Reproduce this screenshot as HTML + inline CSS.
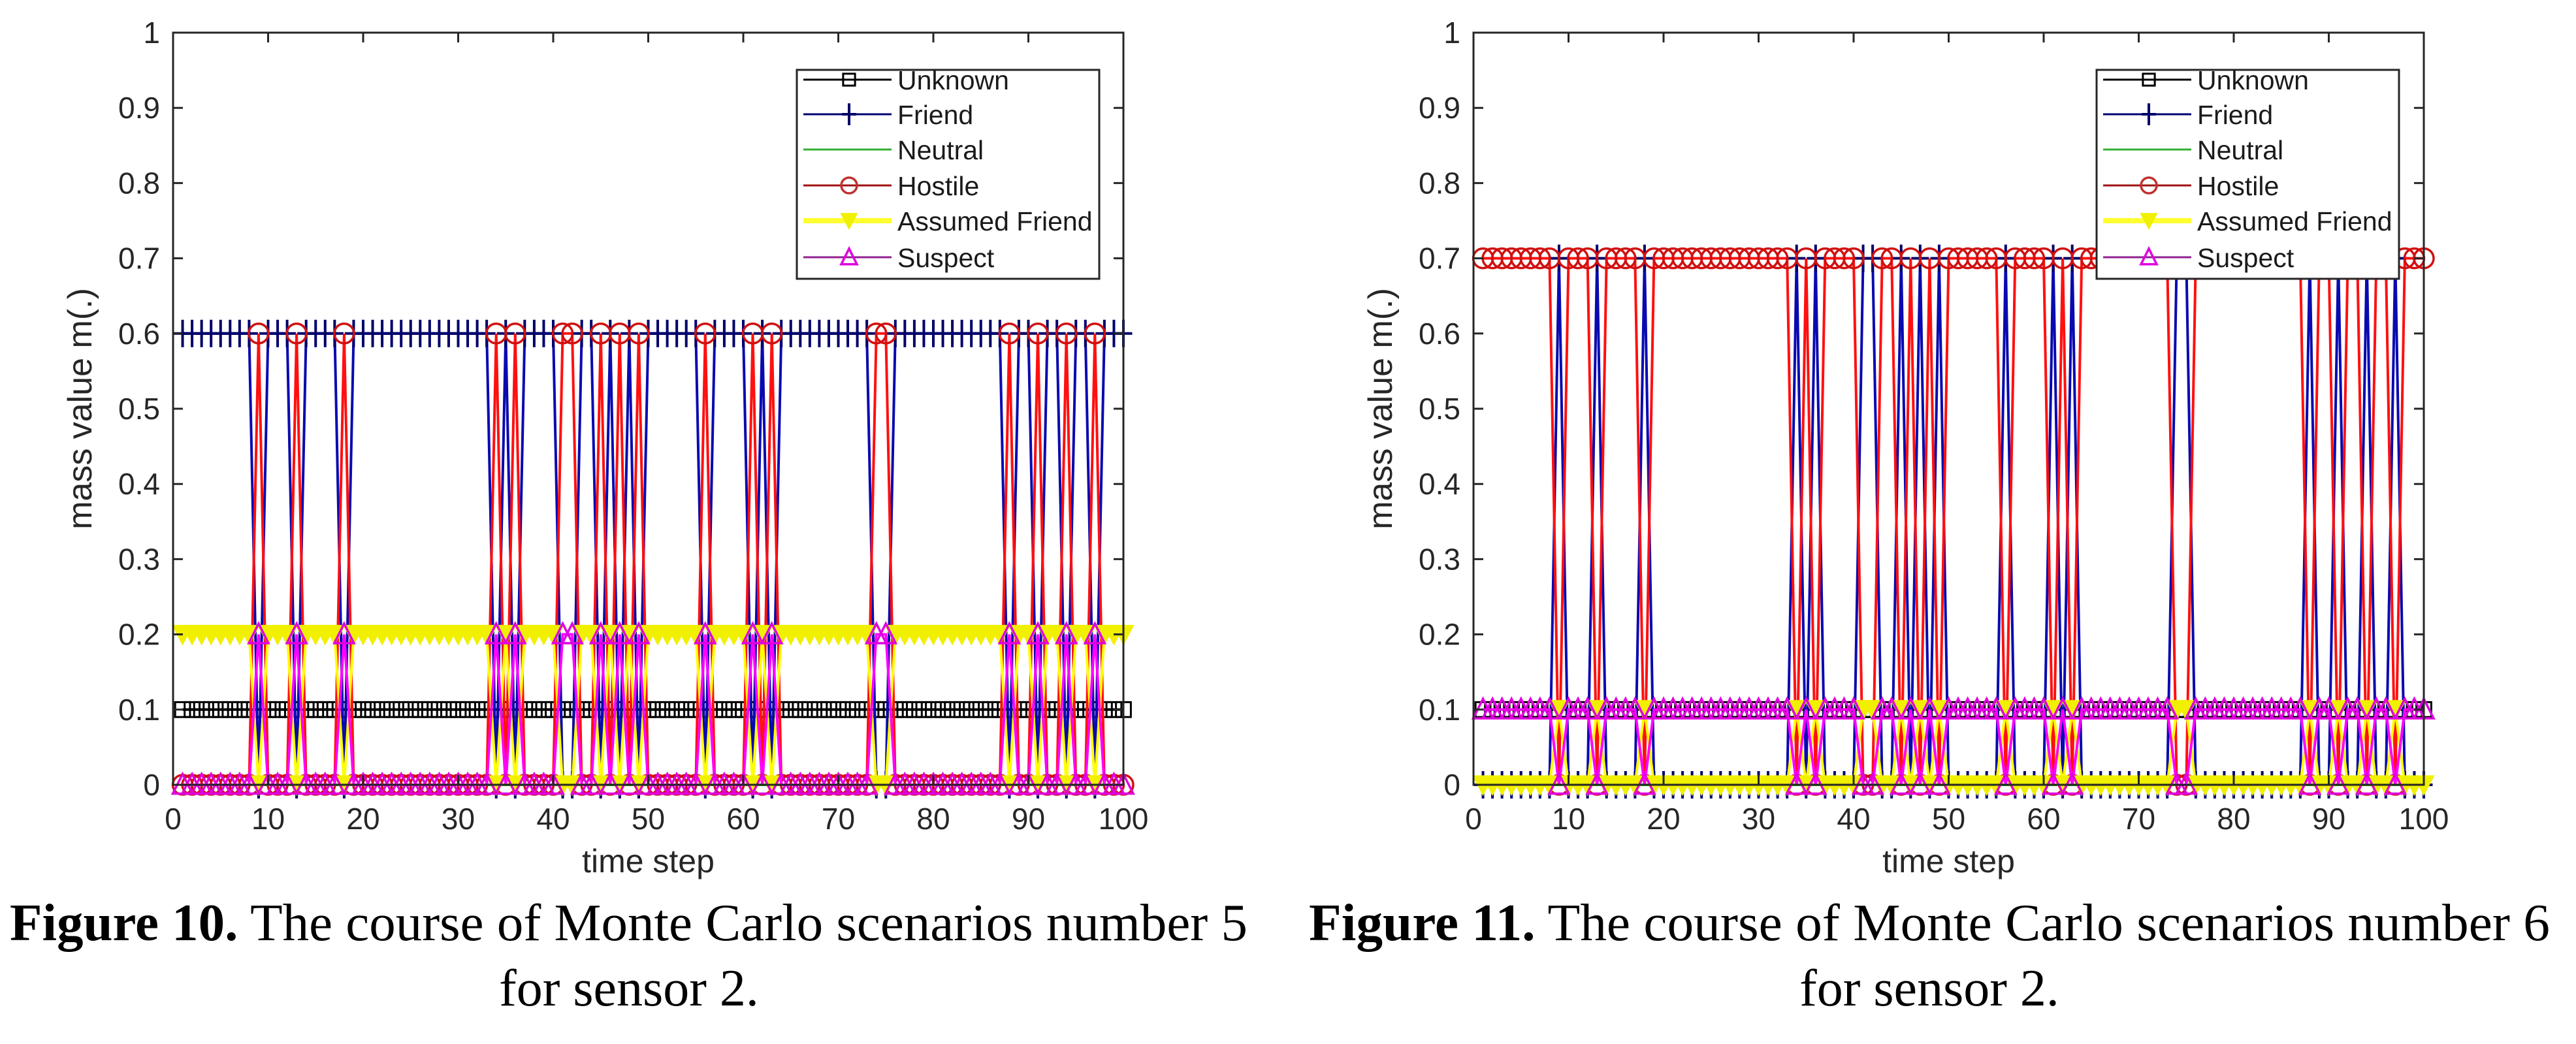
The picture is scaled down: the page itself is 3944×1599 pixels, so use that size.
<!DOCTYPE html>
<html><head><meta charset="utf-8">
<style>
html,body{margin:0;padding:0;background:#fff;}
svg{display:block;}
text{font-family:"Liberation Sans",sans-serif;}
.cap{font-family:"Liberation Serif",serif;}
</style></head>
<body>
<svg id="fig" width="3944" height="1599" viewBox="0 0 3944 1599" xmlns="http://www.w3.org/2000/svg">
<rect x="0" y="0" width="3944" height="1599" fill="#fff"/>
<g id="chartL"></g>
<g id="chartR"></g>
<text class="cap" x="15" y="1440" font-size="80" textLength="1895" lengthAdjust="spacingAndGlyphs"><tspan font-weight="bold">Figure 10.</tspan> The course of Monte Carlo scenarios number 5</text>
<text class="cap" x="963" y="1540" font-size="80" text-anchor="middle">for sensor 2.</text>
<text class="cap" x="2004" y="1440" font-size="80" textLength="1900" lengthAdjust="spacingAndGlyphs"><tspan font-weight="bold">Figure 11.</tspan> The course of Monte Carlo scenarios number 6</text>
<text class="cap" x="2954" y="1540" font-size="80" text-anchor="middle">for sensor 2.</text>
</svg>
<script>
// ---- shared axis data ----
const xTicks = [0,10,20,30,40,50,60,70,80,90,100];
const yTicks = [0,0.1,0.2,0.3,0.4,0.5,0.6,0.7,0.8,0.9,1];
const yTickLabels = ["0","0.1","0.2","0.3","0.4","0.5","0.6","0.7","0.8","0.9","1"];
const seriesNames = ["Unknown","Friend","Neutral","Hostile","Assumed Friend","Suspect"];
const timeSteps = [1,2,3,4,5,6,7,8,9,10,11,12,13,14,15,16,17,18,19,20,21,22,23,24,25,26,27,28,29,30,31,32,33,34,35,36,37,38,39,40,41,42,43,44,45,46,47,48,49,50,51,52,53,54,55,56,57,58,59,60,61,62,63,64,65,66,67,68,69,70,71,72,73,74,75,76,77,78,79,80,81,82,83,84,85,86,87,88,89,90,91,92,93,94,95,96,97,98,99,100];

// ---- Figure 10 data ----
const f10Unknown = [.1,.1,.1,.1,.1,.1,.1,.1,.1,.1, .1,.1,.1,.1,.1,.1,.1,.1,.1,.1, .1,.1,.1,.1,.1,.1,.1,.1,.1,.1, .1,.1,.1,.1,.1,.1,.1,.1,.1,.1, .1,.1,.1,.1,.1,.1,.1,.1,.1,.1, .1,.1,.1,.1,.1,.1,.1,.1,.1,.1, .1,.1,.1,.1,.1,.1,.1,.1,.1,.1, .1,.1,.1,.1,.1,.1,.1,.1,.1,.1, .1,.1,.1,.1,.1,.1,.1,.1,.1,.1, .1,.1,.1,.1,.1,.1,.1,.1,.1,.1];
const f10Friend = [.6,.6,.6,.6,.6,.6,.6,.6,0,.6, .6,.6,0,.6,.6,.6,.6,0,.6,.6, .6,.6,.6,.6,.6,.6,.6,.6,.6,.6, .6,.6,.6,0,.6,0,.6,.6,.6,.6, 0,0,.6,.6,0,.6,0,.6,0,.6, .6,.6,.6,.6,.6,0,.6,.6,.6,.6, 0,.6,0,.6,.6,.6,.6,.6,.6,.6, .6,.6,.6,0,0,.6,.6,.6,.6,.6, .6,.6,.6,.6,.6,.6,.6,0,.6,.6, 0,.6,.6,0,.6,.6,0,.6,.6,.6];
const f10Neutral = [0,0,0,0,0,0,0,0,0,0, 0,0,0,0,0,0,0,0,0,0, 0,0,0,0,0,0,0,0,0,0, 0,0,0,0,0,0,0,0,0,0, 0,0,0,0,0,0,0,0,0,0, 0,0,0,0,0,0,0,0,0,0, 0,0,0,0,0,0,0,0,0,0, 0,0,0,0,0,0,0,0,0,0, 0,0,0,0,0,0,0,0,0,0, 0,0,0,0,0,0,0,0,0,0];
const f10Hostile = [0,0,0,0,0,0,0,0,.6,0, 0,0,.6,0,0,0,0,.6,0,0, 0,0,0,0,0,0,0,0,0,0, 0,0,0,.6,0,.6,0,0,0,0, .6,.6,0,0,.6,0,.6,0,.6,0, 0,0,0,0,0,.6,0,0,0,0, .6,0,.6,0,0,0,0,0,0,0, 0,0,0,.6,.6,0,0,0,0,0, 0,0,0,0,0,0,0,.6,0,0, .6,0,0,.6,0,0,.6,0,0,0];
const f10AssumedFriend = [.2,.2,.2,.2,.2,.2,.2,.2,0,.2, .2,.2,0,.2,.2,.2,.2,0,.2,.2, .2,.2,.2,.2,.2,.2,.2,.2,.2,.2, .2,.2,.2,0,.2,0,.2,.2,.2,.2, 0,0,.2,.2,0,.2,0,.2,0,.2, .2,.2,.2,.2,.2,0,.2,.2,.2,.2, 0,.2,0,.2,.2,.2,.2,.2,.2,.2, .2,.2,.2,0,0,.2,.2,.2,.2,.2, .2,.2,.2,.2,.2,.2,.2,0,.2,.2, 0,.2,.2,0,.2,.2,0,.2,.2,.2];
const f10Suspect = [0,0,0,0,0,0,0,0,.2,0, 0,0,.2,0,0,0,0,.2,0,0, 0,0,0,0,0,0,0,0,0,0, 0,0,0,.2,0,.2,0,0,0,0, .2,.2,0,0,.2,0,.2,0,.2,0, 0,0,0,0,0,.2,0,0,0,0, .2,0,.2,0,0,0,0,0,0,0, 0,0,0,.2,.2,0,0,0,0,0, 0,0,0,0,0,0,0,.2,0,0, .2,0,0,.2,0,0,.2,0,0,0];

// ---- Figure 11 data ----
const f11Unknown = [.1,.1,.1,.1,.1,.1,.1,.1,.1,.1, .1,.1,.1,.1,.1,.1,.1,.1,.1,.1, .1,.1,.1,.1,.1,.1,.1,.1,.1,.1, .1,.1,.1,.1,.1,.1,.1,.1,.1,.1, .1,.1,.1,.1,.1,.1,.1,.1,.1,.1, .1,.1,.1,.1,.1,.1,.1,.1,.1,.1, .1,.1,.1,.1,.1,.1,.1,.1,.1,.1, .1,.1,.1,.1,.1,.1,.1,.1,.1,.1, .1,.1,.1,.1,.1,.1,.1,.1,.1,.1, .1,.1,.1,.1,.1,.1,.1,.1,.1,.1];
const f11Friend = [0,0,0,0,0,0,0,0,.7,0, 0,0,.7,0,0,0,0,.7,0,0, 0,0,0,0,0,0,0,0,0,0, 0,0,0,.7,0,.7,0,0,0,0, .7,.7,0,0,.7,0,.7,0,.7,0, 0,0,0,0,0,.7,0,0,0,0, .7,0,.7,0,0,0,0,0,0,0, 0,0,0,.7,.7,0,0,0,0,0, 0,0,0,0,0,0,0,.7,0,0, .7,0,0,.7,0,0,.7,0,0,0];
const f11Neutral = [0,0,0,0,0,0,0,0,0,0, 0,0,0,0,0,0,0,0,0,0, 0,0,0,0,0,0,0,0,0,0, 0,0,0,0,0,0,0,0,0,0, 0,0,0,0,0,0,0,0,0,0, 0,0,0,0,0,0,0,0,0,0, 0,0,0,0,0,0,0,0,0,0, 0,0,0,0,0,0,0,0,0,0, 0,0,0,0,0,0,0,0,0,0, 0,0,0,0,0,0,0,0,0,0];
const f11Hostile = [.7,.7,.7,.7,.7,.7,.7,.7,0,.7, .7,.7,0,.7,.7,.7,.7,0,.7,.7, .7,.7,.7,.7,.7,.7,.7,.7,.7,.7, .7,.7,.7,0,.7,0,.7,.7,.7,.7, 0,0,.7,.7,0,.7,0,.7,0,.7, .7,.7,.7,.7,.7,0,.7,.7,.7,.7, 0,.7,0,.7,.7,.7,.7,.7,.7,.7, .7,.7,.7,0,0,.7,.7,.7,.7,.7, .7,.7,.7,.7,.7,.7,.7,0,.7,.7, 0,.7,.7,0,.7,.7,0,.7,.7,.7];
const f11AssumedFriend = [0,0,0,0,0,0,0,0,.1,0, 0,0,.1,0,0,0,0,.1,0,0, 0,0,0,0,0,0,0,0,0,0, 0,0,0,.1,0,.1,0,0,0,0, .1,.1,0,0,.1,0,.1,0,.1,0, 0,0,0,0,0,.1,0,0,0,0, .1,0,.1,0,0,0,0,0,0,0, 0,0,0,.1,.1,0,0,0,0,0, 0,0,0,0,0,0,0,.1,0,0, .1,0,0,.1,0,0,.1,0,0,0];
const f11Suspect = [.1,.1,.1,.1,.1,.1,.1,.1,0,.1, .1,.1,0,.1,.1,.1,.1,0,.1,.1, .1,.1,.1,.1,.1,.1,.1,.1,.1,.1, .1,.1,.1,0,.1,0,.1,.1,.1,.1, 0,0,.1,.1,0,.1,0,.1,0,.1, .1,.1,.1,.1,.1,0,.1,.1,.1,.1, 0,.1,0,.1,.1,.1,.1,.1,.1,.1, .1,.1,.1,0,0,.1,.1,.1,.1,.1, .1,.1,.1,.1,.1,.1,.1,0,.1,.1, 0,.1,.1,0,.1,.1,0,.1,.1,.1];

const NS = "http://www.w3.org/2000/svg";
function mk(tag, attrs, parent){
  const e = document.createElementNS(NS, tag);
  for (const k in attrs) e.setAttribute(k, attrs[k]);
  parent.appendChild(e);
  return e;
}
const styles = [
  {line:"#000000", mk:"square", mc:"#000000"},
  {line:"#0a0ab0", mk:"plus", mc:"#00006a"},
  {line:"#00e000", mk:"none", mc:"#00e000"},
  {line:"#ff1010", mk:"circle", mc:"#d01010"},
  {line:"#ffff00", mk:"tridown", mc:"#f0f000"},
  {line:"#ff00ff", mk:"triup", mc:"#e000e0"}
];
function drawMarker(g, type, x, y, c, s){
  let e;
  if (type === "square") {
    e = mk("rect", {x:x-s*0.38, y:y-s*0.38, width:s*0.76, height:s*0.76, fill:"none", stroke:c, "stroke-width":3}, g);
  } else if (type === "plus") {
    e = mk("path", {d:`M${x},${y-s*0.7}V${y+s*0.7}M${x-s*0.45},${y}H${x+s*0.45}`, stroke:c, "stroke-width":4, fill:"none"}, g);
  } else if (type === "circle") {
    e = mk("circle", {cx:x, cy:y, r:s*0.5, fill:"none", stroke:c, "stroke-width":3.5}, g);
  } else if (type === "tridown") {
    e = mk("path", {d:`M${x-s*0.5},${y-s*0.45}L${x+s*0.5},${y-s*0.45}L${x},${y+s*0.5}Z`, fill:c, stroke:c, "stroke-width":2}, g);
  } else if (type === "triup") {
    e = mk("path", {d:`M${x-s*0.5},${y+s*0.45}L${x+s*0.5},${y+s*0.45}L${x},${y-s*0.55}Z`, fill:"none", stroke:c, "stroke-width":3.5}, g);
  }
  return e;
}
function drawChart(g, X0, X1, Y0, Y1, series, legX, ylabX, prefix){
  const sx = v => X0 + (v - 0) / 100 * (X1 - X0);
  const sy = v => Y0 - v * (Y0 - Y1);
  const box = mk("rect", {x:X0, y:Y1, width:X1-X0, height:Y0-Y1, fill:"#fff", stroke:"#262626", "stroke-width":3}, g);
  
  
  series.forEach((vals, si) => {
    const st = styles[si];
    const sg = mk("g", {}, g);
    
    
    const pts = vals.map((v, i) => sx(timeSteps[i]).toFixed(1) + "," + sy(v).toFixed(1)).join(" ");
    const pl = mk("polyline", {points:pts, fill:"none", stroke:st.line, "stroke-width":4, "stroke-linejoin":"miter"}, sg);
    
    
    if (st.mk !== "none") {
      vals.forEach((v, i) => {
        const m = drawMarker(sg, st.mk, sx(timeSteps[i]), sy(v), st.mc, 30);
        
        
      });
    }
  });
  mk("rect", {x:X0, y:Y1, width:X1-X0, height:Y0-Y1, fill:"none", stroke:"#262626", "stroke-width":3}, g);
  xTicks.forEach(t => {
    const x = sx(t);
    mk("path", {d:`M${x},${Y0}V${Y0-15}M${x},${Y1}V${Y1+15}`, stroke:"#262626", "stroke-width":3}, g);
    const tl = mk("text", {x:x, y:1270, "font-size":46, "text-anchor":"middle", fill:"#262626"}, g);
    tl.textContent = String(t);
    
    
  });
  yTicks.forEach((t, i) => {
    const y = sy(t);
    mk("path", {d:`M${X0},${y}H${X0+15}M${X1},${y}H${X1-15}`, stroke:"#262626", "stroke-width":3}, g);
    const tl = mk("text", {x:X0-20, y:y+16, "font-size":46, "text-anchor":"end", fill:"#262626"}, g);
    tl.textContent = yTickLabels[i];
    
    
  });
  const xt = mk("text", {x:(X0+X1)/2, y:1336, "font-size":50, "text-anchor":"middle", fill:"#262626"}, g);
  xt.textContent = "time step";
  
  
  const yt = mk("text", {x:0, y:0, "font-size":52, "text-anchor":"middle", fill:"#262626", transform:`translate(${ylabX},${(Y0+Y1)/2}) rotate(-90)`}, g);
  yt.textContent = "mass value m(.)";
  
  
  const lg = mk("g", {}, g);
  
  
  mk("rect", {x:legX, y:107, width:463, height:320, fill:"#fff", stroke:"#262626", "stroke-width":3}, lg);
  const rowsY = [122,175,229,284,338,394];
  const legLine = ["#000000","#000070","#30b030","#a01010","#ffff30","#902090"];
  seriesNames.forEach((n, i) => {
    const eg = mk("g", {}, lg);
    
    
    const y = rowsY[i];
    mk("line", {x1:legX+10, y1:y, x2:legX+145, y2:y, stroke:legLine[i], "stroke-width":i===4?8:3}, eg);
    if (styles[i].mk !== "none") drawMarker(eg, styles[i].mk, legX+80, y, i===3?"#c03030":styles[i].mc, 24);
    const t = mk("text", {x:legX+154, y:y+15, "font-size":41, fill:"#1a1a1a"}, eg);
    t.textContent = n;
  });
}
drawChart(document.getElementById("chartL"), 265, 1720, 1202, 50,
  [f10Unknown, f10Friend, f10Neutral, f10Hostile, f10AssumedFriend, f10Suspect], 1220, 140, "fig10");
drawChart(document.getElementById("chartR"), 2256, 3711, 1202, 50,
  [f11Unknown, f11Friend, f11Neutral, f11Hostile, f11AssumedFriend, f11Suspect], 3210, 2131, "fig11");
</script>
</body></html>
